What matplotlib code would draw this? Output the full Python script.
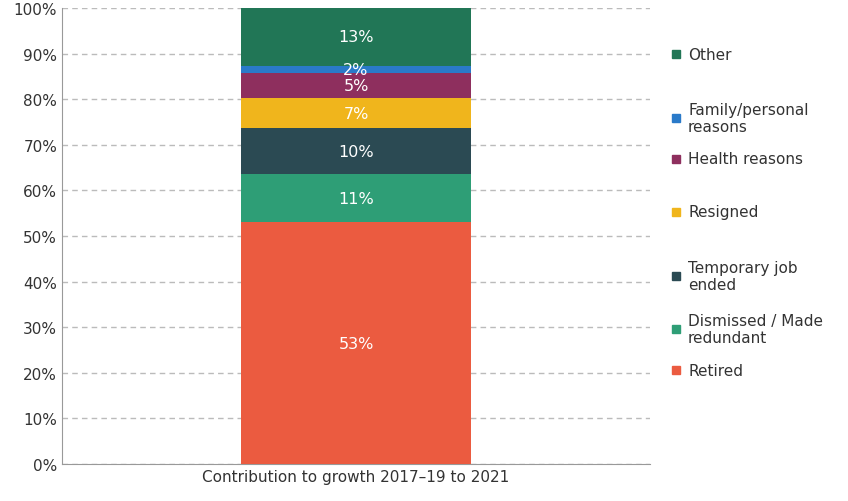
import matplotlib
matplotlib.use("Agg")
import matplotlib.pyplot as plt

categories = ["Retired", "Dismissed / Made\nredundant", "Temporary job\nended", "Resigned",
              "Health reasons", "Family/personal\nreasons", "Other"]
values = [53.0, 10.6, 10.0, 6.6, 5.5, 1.6, 12.7]
labels = ["53%", "11%", "10%", "7%", "5%", "2%", "13%"]
colors = ["#eb5b40", "#2e9e76", "#2b4a53", "#f0b51c", "#8e2f5e", "#2a7ac9", "#217656"]
legend_y = [371, 330, 277, 213, 160, 119, 55]
xlabel = "Contribution to growth 2017\u201319 to 2021"

W, H = 848, 502
fig = plt.figure(figsize=(W/100, H/100), dpi=100)
ax = fig.add_axes([62/W, 1-465/H, 588/W, 456/H])
bottom = 0
for v, lab, c in zip(values, labels, colors):
    ax.bar(0, v, bottom=bottom, width=0.39, color=c, zorder=3)
    ax.text(0, bottom + v/2, lab, ha="center", va="center", color="white", fontsize=11.5, zorder=4)
    bottom += v
ax.set_xlim(-0.5, 0.5)
ax.set_ylim(0, 100)
ax.set_yticks(range(0, 101, 10))
ax.set_yticklabels([f"{t}%" for t in range(0, 101, 10)], fontsize=11, color="#333333")
ax.set_xticks([0])
ax.set_xticklabels([xlabel], fontsize=11, color="#333333")
ax.tick_params(length=0)
ax.grid(axis="y", linestyle=(0, (4, 3)), color="#bbbbbb", linewidth=1, zorder=0)
for s in ["top", "right"]:
    ax.spines[s].set_visible(False)
ax.spines["left"].set_color("#999999")
ax.spines["bottom"].set_color("#999999")

for cat, c, y in zip(categories, colors, legend_y):
    fig.patches.append(plt.Rectangle(((676-4)/W, 1-(y-4)/H - 8/H), 8/W, 8/H, color=c, transform=fig.transFigure, figure=fig))
    fig.text(688/W, 1-y/H, cat, ha="left", va="center", fontsize=11, color="#333333", linespacing=1.1)

fig.savefig("out.png", dpi=100)
